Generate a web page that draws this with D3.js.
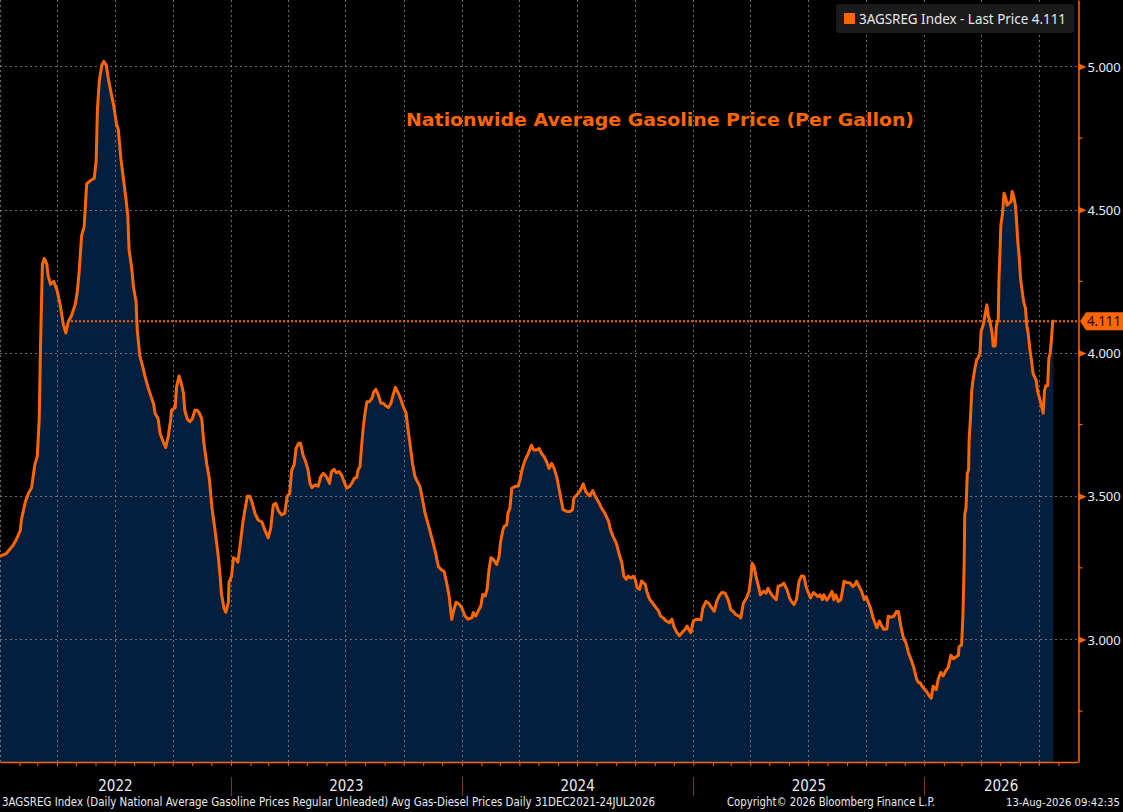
<!DOCTYPE html>
<html><head><meta charset="utf-8">
<script src="https://cdn.jsdelivr.net/npm/d3@7"></script>
<style>html,body{margin:0;padding:0;background:#000;overflow:hidden}svg{display:block}</style>
</head><body><svg id="chart" width="1123" height="812"></svg>
<script>
// ---- data ----
const dates = [
"2021-12-31","2022-01-11","2022-01-22","2022-01-27","2022-02-02","2022-02-04","2022-02-10","2022-02-15","2022-02-20","2022-02-25",
"2022-03-01","2022-03-04","2022-03-06","2022-03-09","2022-03-12","2022-03-16","2022-03-18","2022-03-22","2022-03-27","2022-04-01",
"2022-04-06","2022-04-11","2022-04-15","2022-04-19","2022-04-24","2022-04-30","2022-05-03","2022-05-06","2022-05-10","2022-05-14",
"2022-05-18","2022-05-23","2022-05-30","2022-06-02","2022-06-04","2022-06-07","2022-06-11","2022-06-14","2022-06-18","2022-06-21",
"2022-06-25","2022-06-30","2022-07-04","2022-07-07","2022-07-11","2022-07-15","2022-07-19","2022-07-22","2022-07-24","2022-07-28",
"2022-07-31","2022-08-04","2022-08-06","2022-08-10","2022-08-15","2022-08-18","2022-08-23","2022-08-29","2022-09-01","2022-09-03",
"2022-09-08","2022-09-11","2022-09-16","2022-09-20","2022-09-24","2022-09-28","2022-09-29","2022-10-05","2022-10-07","2022-10-11",
"2022-10-15","2022-10-18","2022-10-20","2022-10-24","2022-10-28","2022-11-01","2022-11-05","2022-11-09","2022-11-12","2022-11-16",
"2022-11-19","2022-11-24","2022-11-28","2022-12-02","2022-12-07","2022-12-12","2022-12-15","2022-12-17","2022-12-21","2022-12-24",
"2022-12-28","2022-12-29","2023-01-02","2023-01-05","2023-01-09","2023-01-12","2023-01-15","2023-01-20","2023-01-23","2023-01-27",
"2023-01-31","2023-02-04","2023-02-08","2023-02-13","2023-02-19","2023-02-24","2023-03-01","2023-03-05","2023-03-09","2023-03-13",
"2023-03-17","2023-03-22","2023-03-27","2023-03-31","2023-04-04","2023-04-07","2023-04-11","2023-04-14","2023-04-18","2023-04-21",
"2023-04-25","2023-04-30","2023-05-03","2023-05-06","2023-05-09","2023-05-14","2023-05-19","2023-05-23","2023-05-27","2023-06-01",
"2023-06-06","2023-06-09","2023-06-13","2023-06-17","2023-06-21","2023-06-25","2023-06-29","2023-07-03","2023-07-07","2023-07-11",
"2023-07-15","2023-07-19","2023-07-21","2023-07-24","2023-07-27","2023-07-29","2023-08-01","2023-08-04","2023-08-08","2023-08-12",
"2023-08-15","2023-08-18","2023-08-22","2023-08-26","2023-08-30","2023-09-03","2023-09-07","2023-09-11","2023-09-15","2023-09-18",
"2023-09-23","2023-09-26","2023-09-30","2023-10-05","2023-10-08","2023-10-11","2023-10-15","2023-10-19","2023-10-23","2023-10-27",
"2023-10-30","2023-11-04","2023-11-09","2023-11-14","2023-11-20","2023-11-25","2023-11-30","2023-12-04","2023-12-08","2023-12-12",
"2023-12-16","2023-12-19","2023-12-23","2023-12-28","2024-01-01","2024-01-06","2024-01-11","2024-01-17","2024-01-19","2024-01-23",
"2024-01-27","2024-01-31","2024-02-03","2024-02-07","2024-02-10","2024-02-13","2024-02-16","2024-02-20","2024-02-25","2024-02-29",
"2024-03-02","2024-03-06","2024-03-08","2024-03-12","2024-03-14","2024-03-17","2024-03-20","2024-03-25","2024-03-30","2024-04-02",
"2024-04-05","2024-04-10","2024-04-15","2024-04-18","2024-04-20","2024-04-24","2024-04-28","2024-05-02","2024-05-06","2024-05-10",
"2024-05-14","2024-05-18","2024-05-22","2024-05-26","2024-05-30","2024-06-03","2024-06-07","2024-06-09","2024-06-15","2024-06-20",
"2024-06-24","2024-06-26","2024-07-01","2024-07-05","2024-07-08","2024-07-11","2024-07-15","2024-07-21","2024-07-26","2024-07-30",
"2024-08-04","2024-08-09","2024-08-14","2024-08-20","2024-08-23","2024-08-27","2024-09-01","2024-09-06","2024-09-10","2024-09-13",
"2024-09-17","2024-09-20","2024-09-24","2024-09-28","2024-10-01","2024-10-04","2024-10-08","2024-10-11","2024-10-17","2024-10-20",
"2024-10-24","2024-10-30","2024-11-03","2024-11-07","2024-11-10","2024-11-14","2024-11-19","2024-11-24","2024-11-28","2024-12-01",
"2024-12-06","2024-12-10","2024-12-14","2024-12-19","2024-12-22","2024-12-26","2024-12-28","2025-01-01","2025-01-06","2025-01-13",
"2025-01-16","2025-01-21","2025-01-25","2025-01-30","2025-02-03","2025-02-07","2025-02-11","2025-02-15","2025-02-20","2025-02-25",
"2025-03-01","2025-03-05","2025-03-09","2025-03-15","2025-03-17","2025-03-21","2025-03-26","2025-03-30","2025-04-02","2025-04-04",
"2025-04-07","2025-04-10","2025-04-14","2025-04-17","2025-04-22","2025-04-26","2025-04-29","2025-05-03","2025-05-07","2025-05-12",
"2025-05-15","2025-05-21","2025-05-24","2025-05-29","2025-06-02","2025-06-05","2025-06-09","2025-06-13","2025-06-17","2025-06-21",
"2025-06-25","2025-06-28","2025-07-02","2025-07-05","2025-07-10","2025-07-14","2025-07-17","2025-07-20","2025-07-24","2025-07-26",
"2025-07-31","2025-08-04","2025-08-08","2025-08-11","2025-08-14","2025-08-18","2025-08-22","2025-08-25","2025-08-27","2025-08-31",
"2025-09-06","2025-09-10","2025-09-13","2025-09-16","2025-09-20","2025-09-24","2025-09-28","2025-10-01","2025-10-05","2025-10-08",
"2025-10-12","2025-10-18","2025-10-22","2025-10-26","2025-10-29","2025-11-03","2025-11-05","2025-11-09","2025-11-14","2025-11-18",
"2025-11-21","2025-11-25","2025-11-29","2025-12-03","2025-12-07","2025-12-11","2025-12-15","2025-12-20","2025-12-23","2025-12-25",
"2025-12-30","2026-01-04","2026-01-07","2026-01-10","2026-01-12","2026-01-15","2026-01-20","2026-01-23","2026-01-27","2026-01-31",
"2026-02-04","2026-02-08","2026-02-12","2026-02-16","2026-02-20","2026-02-24","2026-02-25","2026-03-01","2026-03-03","2026-03-05",
"2026-03-06","2026-03-08","2026-03-10","2026-03-12","2026-03-13","2026-03-15","2026-03-17","2026-03-19","2026-03-22","2026-03-25",
"2026-03-27","2026-03-30","2026-04-01","2026-04-04","2026-04-07","2026-04-10","2026-04-12","2026-04-15","2026-04-18","2026-04-20",
"2026-04-23","2026-04-25","2026-04-28","2026-04-29","2026-05-01","2026-05-02","2026-05-05","2026-05-07","2026-05-10","2026-05-12",
"2026-05-15","2026-05-18","2026-05-20","2026-05-23","2026-05-25","2026-05-27","2026-05-29","2026-05-31","2026-06-02","2026-06-04",
"2026-06-07","2026-06-10","2026-06-12","2026-06-14","2026-06-17","2026-06-20","2026-06-22","2026-06-27","2026-06-29","2026-07-02",
"2026-07-06","2026-07-08","2026-07-10","2026-07-12","2026-07-15","2026-07-17","2026-07-19","2026-07-21","2026-07-23","2026-07-24"
];
const prices = [
3.29,3.30,3.33,3.35,3.38,3.42,3.48,3.51,3.53,3.61,
3.64,3.77,4.02,4.31,4.33,4.31,4.27,4.24,4.25,4.22,
4.17,4.10,4.07,4.11,4.13,4.17,4.21,4.28,4.41,4.44,
4.59,4.60,4.61,4.67,4.85,4.95,5.005,5.018,5.005,4.96,
4.915,4.86,4.80,4.78,4.68,4.61,4.54,4.48,4.36,4.30,
4.23,4.18,4.08,3.99,3.95,3.92,3.88,3.84,3.82,3.79,
3.77,3.72,3.69,3.67,3.71,3.77,3.80,3.81,3.88,3.92,
3.89,3.86,3.80,3.77,3.76,3.77,3.80,3.80,3.79,3.77,
3.69,3.61,3.56,3.46,3.38,3.29,3.22,3.16,3.11,3.095,
3.13,3.20,3.22,3.285,3.28,3.27,3.32,3.41,3.45,3.50,
3.50,3.475,3.44,3.417,3.41,3.38,3.355,3.39,3.47,3.475,
3.45,3.435,3.44,3.50,3.51,3.59,3.61,3.667,3.685,3.685,
3.644,3.615,3.59,3.545,3.53,3.54,3.535,3.568,3.58,3.568,
3.545,3.586,3.594,3.582,3.586,3.574,3.55,3.528,3.533,3.545,
3.562,3.566,3.592,3.603,3.685,3.737,3.79,3.83,3.83,3.842,
3.865,3.873,3.854,3.825,3.825,3.815,3.81,3.825,3.858,3.88,
3.858,3.842,3.815,3.79,3.731,3.685,3.615,3.568,3.55,3.533,
3.498,3.44,3.40,3.359,3.307,3.254,3.243,3.237,3.198,3.15,
3.07,3.10,3.13,3.123,3.11,3.082,3.071,3.076,3.094,3.082,
3.10,3.117,3.157,3.152,3.175,3.244,3.285,3.279,3.262,3.29,
3.337,3.383,3.395,3.40,3.441,3.458,3.528,3.534,3.536,3.557,
3.591,3.626,3.649,3.667,3.678,3.661,3.661,3.667,3.649,3.638,
3.62,3.597,3.615,3.597,3.568,3.522,3.476,3.453,3.447,3.447,
3.453,3.493,3.505,3.516,3.528,3.543,3.516,3.501,3.52,3.499,
3.481,3.458,3.441,3.412,3.383,3.36,3.337,3.296,3.267,3.221,
3.21,3.221,3.215,3.221,3.21,3.181,3.175,3.204,3.192,3.163,
3.14,3.123,3.111,3.10,3.082,3.076,3.065,3.059,3.071,3.047,
3.024,3.013,3.024,3.036,3.047,3.03,3.024,3.065,3.071,3.069,
3.11,3.133,3.127,3.11,3.098,3.133,3.153,3.164,3.162,3.139,
3.104,3.098,3.087,3.081,3.075,3.127,3.145,3.168,3.22,3.266,
3.255,3.22,3.185,3.156,3.168,3.162,3.179,3.162,3.15,3.139,
3.185,3.191,3.197,3.174,3.145,3.133,3.122,3.139,3.203,3.222,
3.22,3.185,3.162,3.145,3.164,3.156,3.15,3.156,3.139,3.156,
3.137,3.15,3.168,3.139,3.156,3.133,3.139,3.174,3.203,3.199,
3.197,3.185,3.191,3.203,3.185,3.168,3.139,3.15,3.127,3.11,
3.075,3.041,3.064,3.046,3.035,3.037,3.081,3.078,3.081,3.098,
3.098,3.046,3.006,2.988,2.954,2.931,2.905,2.861,2.849,2.85,
2.832,2.821,2.81,2.80,2.795,2.837,2.825,2.861,2.885,2.873,
2.891,2.903,2.945,2.933,2.939,2.945,2.975,2.981,3.077,3.257,
3.436,3.46,3.58,3.592,3.70,3.772,3.868,3.904,3.946,3.978,
3.982,4.0,4.078,4.096,4.132,4.168,4.132,4.108,4.072,4.024,
4.024,4.096,4.12,4.252,4.372,4.444,4.492,4.558,4.54,4.516,
4.522,4.528,4.564,4.54,4.516,4.456,4.384,4.336,4.264,4.228,
4.18,4.156,4.096,4.072,4.012,3.964,3.928,3.904,3.868,3.844,
3.808,3.79,3.868,3.886,3.886,3.982,4.0,4.048,4.108,4.111
];
const yTicks = [3.0, 3.5, 4.0, 4.5, 5.0];
const yMinorTicks = [2.75, 3.25, 3.75, 4.25, 4.75];
const yearLabels = ["2022", "2023", "2024", "2025", "2026"];
const lastPrice = 4.111;
const lastLineStart = "2022-04-17";
const titleText = "Nationwide Average Gasoline Price (Per Gallon)";
const legendText = "3AGSREG Index - Last Price 4.111";
const footerLeft = "3AGSREG Index (Daily National Average Gasoline Prices Regular Unleaded) Avg Gas-Diesel Prices Daily 31DEC2021-24JUL2026";
const footerMid = "Copyright\u00A9 2026 Bloomberg Finance L.P.";
const footerRight = "13-Aug-2026 09:42:35";

// ---- drawing ----
const ORANGE = "#ff6600";
const W = 1123, H = 812, R = 1078, B = 762;
const parse = d3.utcParse("%Y-%m-%d");
const data = dates.map((d, i) => ({date: parse(d), v: prices[i]}));

const x = d3.scaleUtc().domain([new Date(Date.UTC(2022,0,1)), new Date(Date.UTC(2026,8,1))]).range([0, R]);
const y = d3.scaleLinear().domain([2.5724, 5.2321]).range([B, 0]);

const svg = d3.select("#chart");
svg.append("rect").attr("width", W).attr("height", H).attr("fill", "#000");

svg.append("defs").append("clipPath").attr("id", "plotclip")
  .append("rect").attr("x", 0).attr("y", 0).attr("width", R).attr("height", B);

const plot = svg.append("g").attr("clip-path", "url(#plotclip)");

// area
plot.append("path").datum(data)
  .attr("fill", "#031f3d")
  .attr("d", d3.area().x(d => x(d.date)).y0(B).y1(d => y(d.v)));

// grid
const grid = plot.append("g").attr("stroke", "#8a8f96").attr("stroke-opacity", 0.75)
  .attr("stroke-width", 1).attr("stroke-dasharray", "2,3");
grid.selectAll("line.h").data(yTicks).join("line").attr("class", "h")
  .attr("x1", 0).attr("x2", R).attr("y1", d => Math.round(y(d)) + 0.5).attr("y2", d => Math.round(y(d)) + 0.5);
const quarters = d3.utcMonth.every(3).range(new Date(Date.UTC(2022,0,1)), new Date(Date.UTC(2026,8,1)));
grid.selectAll("line.v").data(quarters).join("line").attr("class", "v")
  .attr("x1", d => Math.round(x(d)) + 0.5).attr("x2", d => Math.round(x(d)) + 0.5).attr("y1", 0).attr("y2", B);

// last price dotted line
plot.append("line")
  .attr("x1", x(parse(lastLineStart))).attr("x2", R)
  .attr("y1", y(lastPrice)).attr("y2", y(lastPrice))
  .attr("stroke", ORANGE).attr("stroke-width", 2).attr("stroke-dasharray", "2,2");

// price line
plot.append("path").datum(data)
  .attr("fill", "none").attr("stroke", ORANGE).attr("stroke-width", 3)
  .attr("stroke-linejoin", "round").attr("stroke-linecap", "round")
  .attr("d", d3.line().x(d => x(d.date)).y(d => y(d.v)));

// bottom axis with monthly ticks
const months = d3.utcMonth.range(new Date(Date.UTC(2022,1,1)), new Date(Date.UTC(2026,8,1)));
const xAxis = svg.append("g").attr("transform", `translate(0,${B})`)
  .call(d3.axisBottom(x).tickValues(months).tickSize(4).tickSizeOuter(0).tickFormat(""));
xAxis.select(".domain").attr("stroke", ORANGE).attr("stroke-width", 1.5);
xAxis.selectAll(".tick line").attr("stroke", ORANGE);

// year separators & labels
const yearStarts = yearLabels.map(s => new Date(Date.UTC(+s, 0, 1)));
svg.selectAll("line.sep").data(yearStarts.slice(1)).join("line").attr("class", "sep")
  .attr("x1", d => Math.round(x(d)) + 0.5).attr("x2", d => Math.round(x(d)) + 0.5)
  .attr("y1", 777).attr("y2", 796).attr("stroke", "#7a3a12").attr("stroke-width", 1);
svg.selectAll("text.year").data(yearLabels).join("text").attr("class", "year")
  .attr("x", (d, i) => {
    const a = Math.max(0, x(yearStarts[i]));
    const b = Math.min(R, x(new Date(Date.UTC(+d + 1, 0, 1))));
    return (a + b) / 2;
  })
  .attr("y", 791).attr("text-anchor", "middle")
  .attr("fill", "#e6ecf2").attr("font-family", "'Liberation Sans Narrow','DejaVu Sans Condensed',sans-serif")
  .attr("font-size", 15).text(d => d);

// right axis
const yAxis = svg.append("g").attr("transform", `translate(${R + 0.5},0)`)
  .call(d3.axisRight(y).tickValues(yTicks).tickSize(0).tickSizeOuter(0).tickPadding(9).tickFormat(d3.format(".3f")));
yAxis.select(".domain").attr("stroke", ORANGE).attr("stroke-width", 1.5);
yAxis.selectAll(".tick text").attr("fill", "#e6eef5").attr("font-family", "'Noto Sans',sans-serif")
  .attr("font-size", 13).attr("dy", "0.35em");
yAxis.selectAll(".tick").append("path").attr("d", "M0,-3.5L8,0L0,3.5Z").attr("fill", ORANGE);
yAxis.selectAll("line.minor").data(yMinorTicks).join("line").attr("class", "minor")
  .attr("x1", 0).attr("x2", 4).attr("y1", d => y(d)).attr("y2", d => y(d)).attr("stroke", ORANGE).attr("stroke-width", 1.2);

// last price tag
const ly = y(lastPrice);
svg.append("path")
  .attr("d", `M${R + 2},${ly} L${R + 8},${ly - 9} L${W},${ly - 9} L${W},${ly + 9} L${R + 8},${ly + 9} Z`)
  .attr("fill", ORANGE);
svg.append("text").attr("x", R + 9).attr("y", ly + 5)
  .attr("fill", "#1a0800").attr("font-family", "'Noto Sans',sans-serif").attr("font-size", 14)
  .attr("textLength", 34).attr("lengthAdjust", "spacingAndGlyphs")
  .text(d3.format(".3f")(lastPrice));

// title
svg.append("text").attr("x", 660).attr("y", 126).attr("text-anchor", "middle")
  .attr("fill", ORANGE).attr("font-family", "'DejaVu Sans',sans-serif").attr("font-weight", "bold")
  .attr("font-size", 18).attr("textLength", 508).attr("lengthAdjust", "spacingAndGlyphs")
  .text(titleText);

// legend
svg.append("rect").attr("x", 836).attr("y", 4).attr("width", 238).attr("height", 29).attr("rx", 3)
  .attr("fill", "#1b1b1b");
svg.append("rect").attr("x", 844).attr("y", 13).attr("width", 11).attr("height", 11).attr("fill", ORANGE);
svg.append("text").attr("x", 859).attr("y", 23.5).attr("fill", "#e8e8e8")
  .attr("font-family", "'Noto Sans',sans-serif").attr("font-size", 13.5)
  .attr("textLength", 207).attr("lengthAdjust", "spacingAndGlyphs").text(legendText);

// footer
const ff = "'Liberation Sans Narrow','DejaVu Sans Condensed',sans-serif";
svg.append("text").attr("x", 2).attr("y", 806).attr("fill", "#e6ecf2").attr("font-family", ff)
  .attr("font-size", 12).attr("textLength", 653).attr("lengthAdjust", "spacingAndGlyphs").text(footerLeft);
svg.append("text").attr("x", 727).attr("y", 806).attr("fill", "#e6ecf2").attr("font-family", ff)
  .attr("font-size", 12).attr("textLength", 208).attr("lengthAdjust", "spacingAndGlyphs").text(footerMid);
svg.append("text").attr("x", 1120).attr("y", 806).attr("text-anchor", "end").attr("fill", "#e6ecf2").attr("font-family", ff)
  .attr("font-size", 11).attr("textLength", 114).attr("lengthAdjust", "spacingAndGlyphs").text(footerRight);
</script>
</body></html>
